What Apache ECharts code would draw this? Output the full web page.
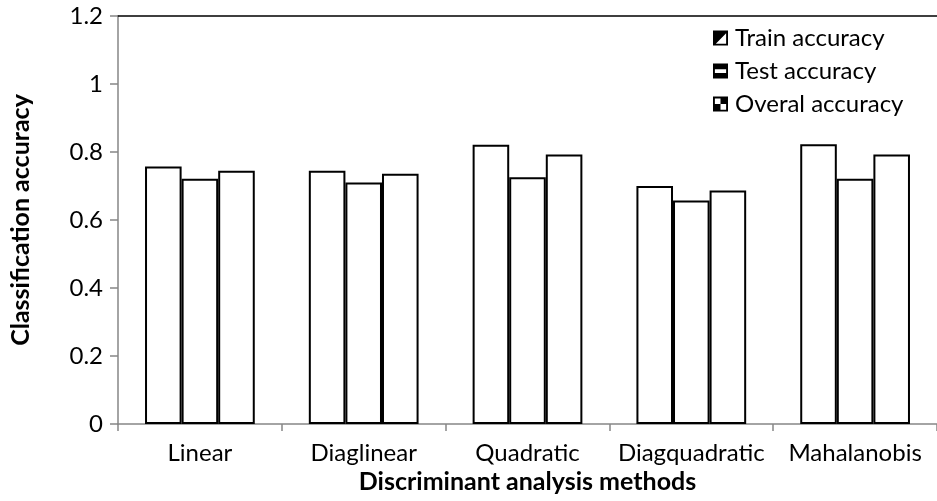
<!DOCTYPE html>
<html>
<head>
<meta charset="utf-8">
<script src="https://cdn.jsdelivr.net/npm/echarts@6/dist/echarts.min.js"></script>
<style>
html,body{margin:0;padding:0;background:#fff;}
#chart{width:937px;height:501px;}
</style>
</head>
<body>
<div id="chart"></div>
<script>
var categories = ['Linear', 'Diaglinear', 'Quadratic', 'Diagquadratic', 'Mahalanobis'];
var trainAccuracy = [0.757, 0.745, 0.821, 0.700, 0.823];
var testAccuracy = [0.721, 0.710, 0.726, 0.657, 0.721];
var overallAccuracy = [0.745, 0.736, 0.793, 0.687, 0.793];
var yTicks = [0, 0.2, 0.4, 0.6, 0.8, 1, 1.2];

var FONT = 'Lato';
var iconTrain = 'path://M0,0 L16,0 L16,16 L0,16 Z M14,3 L3,14 L14,14 Z';
var iconTest = 'path://M0,0 L16,0 L16,16 L0,16 Z M2,6 L2,10 L14,10 L14,6 Z';
var iconOverall = 'path://M0,0 L16,0 L16,16 L0,16 Z M2,2 L2,8 L8,8 L8,2 Z M8,8 L8,14 L14,14 L14,8 Z';

var chart = echarts.init(document.getElementById('chart'), null, {renderer: 'canvas'});

function barSeries(name, data) {
  return {
    name: name,
    type: 'bar',
    data: data,
    barGap: '0%',
    barCategoryGap: '33%',
    itemStyle: {color: '#ffffff', borderColor: '#000000', borderWidth: 2},
    emphasis: {disabled: true},
    animation: false
  };
}

var option = {
  backgroundColor: '#ffffff',
  animation: false,
  textStyle: {fontFamily: FONT},
  grid: {left: 118, top: 16, width: 826, height: 408, containLabel: false},
  legend: {
    orient: 'vertical',
    left: 713,
    top: 26,
    padding: 0,
    itemWidth: 15,
    itemHeight: 15,
    itemGap: 9,
    textStyle: {fontFamily: FONT, fontSize: 24, lineHeight: 24, color: '#000', padding: [0, 0, 0, 2]},
    data: [
      {name: 'Train accuracy', icon: iconTrain, itemStyle: {color: '#000', borderWidth: 0}},
      {name: 'Test accuracy', icon: iconTest, itemStyle: {color: '#000', borderWidth: 0}},
      {name: 'Overal accuracy', icon: iconOverall, itemStyle: {color: '#000', borderWidth: 0}}
    ]
  },
  xAxis: [{
    type: 'category',
    data: categories,
    position: 'bottom',
    axisLine: {show: true, lineStyle: {color: '#868686', width: 1.5}},
    axisTick: {show: true, length: 7, lineStyle: {color: '#868686', width: 1.5}},
    axisLabel: {fontFamily: FONT, fontSize: 24, color: '#000', margin: 17, interval: 0, hideOverlap: false},
    splitLine: {show: false},
    name: 'Discriminant analysis methods',
    nameLocation: 'middle',
    nameGap: 44,
    nameTextStyle: {fontFamily: FONT, fontSize: 25, fontWeight: 'bold', color: '#000'}
  }, {
    type: 'category',
    data: categories,
    position: 'top',
    axisLine: {show: true, lineStyle: {color: '#000', width: 1.5}},
    axisTick: {show: false},
    axisLabel: {show: false},
    splitLine: {show: false}
  }],
  yAxis: {
    type: 'value',
    min: 0,
    max: 1.2,
    interval: 0.2,
    axisLine: {show: true, lineStyle: {color: '#868686', width: 1.5}},
    axisTick: {show: true, length: 8, lineStyle: {color: '#868686', width: 1.5}},
    axisLabel: {
      fontFamily: FONT, fontSize: 24, color: '#000', margin: 15,
      formatter: function (v) {
        var r = Math.round(v * 10) / 10;
        for (var i = 0; i < yTicks.length; i++) { if (Math.abs(yTicks[i] - r) < 1e-9) return String(yTicks[i]); }
        return String(r);
      }
    },
    splitLine: {show: false},
    name: 'Classification accuracy',
    nameLocation: 'middle',
    nameGap: 85,
    nameRotate: 90,
    nameTextStyle: {fontFamily: FONT, fontSize: 25, fontWeight: 'bold', color: '#000'}
  },
  series: [
    barSeries('Train accuracy', trainAccuracy),
    barSeries('Test accuracy', testAccuracy),
    barSeries('Overal accuracy', overallAccuracy)
  ]
};
chart.setOption(option);
</script>
</body>
</html>
